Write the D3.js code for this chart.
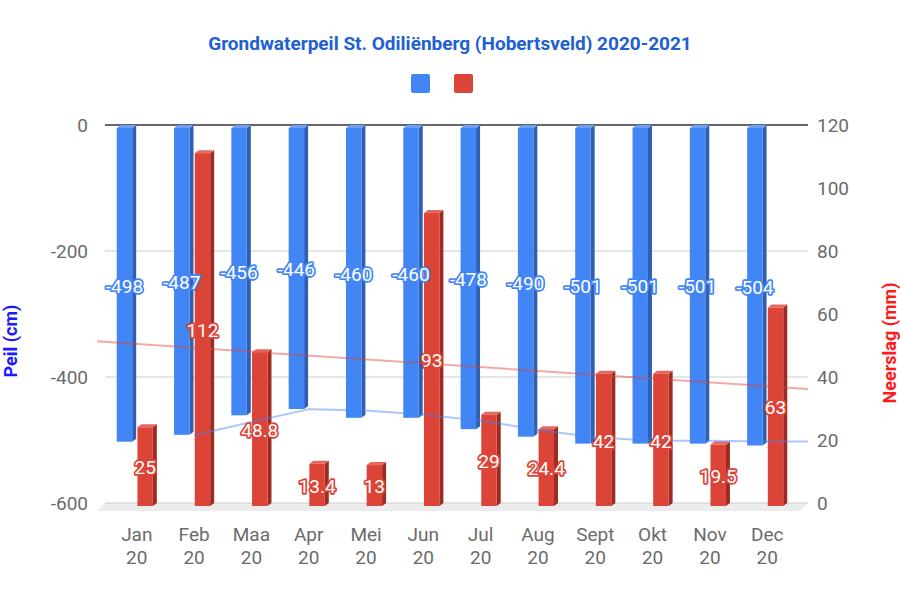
<!DOCTYPE html>
<html>
<head>
<meta charset="utf-8">
<script src="https://cdn.jsdelivr.net/npm/d3@7"></script>
<style>
  body { margin: 0; background: #fff; }
  text { font-family: Roboto, "Noto Sans", sans-serif; }
</style>
</head>
<body>
<div id="chart"></div>
<script>
var months = ["Jan", "Feb", "Maa", "Apr", "Mei", "Jun", "Jul", "Aug", "Sept", "Okt", "Nov", "Dec"];
var yearLabel = "20";
var peil = [-498, -487, -456, -446, -460, -460, -478, -490, -501, -501, -501, -504];
var neerslag = [25, 112, 48.8, 13.4, 13, 93, 29, 24.4, 42, 42, 19.5, 63];
var peilTicks = [0, -200, -400, -600];
var neerslagTicks = [0, 20, 40, 60, 80, 100, 120];

var svgWidth = 900, svgHeight = 600;
var plotLeft = 107, plotRight = 797, plotTop = 125, plotBottom = 503;
var dx = 4, dy = 3;   // 3d depth of the bars
var fs = 19;

var blue = "#4285f4", blueSide = "#2f5fb3", blueTop = "#6d9ef6";
var red = "#db4437", redSide = "#9c2c22", redTop = "#e4685d";

var svg = d3.select("#chart").append("svg")
    .attr("width", svgWidth)
    .attr("height", svgHeight);

var x = d3.scaleBand().domain(months).range([plotLeft, plotRight])
    .paddingInner(0.3).paddingOuter(0.17);
var x1 = d3.scaleBand().domain(["peil", "neerslag"]).range([0, x.bandwidth()]).paddingInner(0.06);
var yL = d3.scaleLinear().domain([-600, 0]).range([plotBottom, plotTop]);
var yR = d3.scaleLinear().domain([0, 120]).range([plotBottom, plotTop]);

function center(i) { return x(months[i]) + x.bandwidth() / 2; }

// title + legend
svg.append("text")
    .attr("x", 450).attr("y", 50)
    .attr("text-anchor", "middle")
    .attr("font-size", fs).attr("font-weight", "bold")
    .attr("fill", "#2160d0")
    .text("Grondwaterpeil St. Odiliënberg (Hobertsveld) 2020-2021");

svg.append("rect").attr("x", 411).attr("y", 74).attr("width", 19).attr("height", 19).attr("rx", 2).attr("fill", blue);
svg.append("rect").attr("x", 454).attr("y", 74).attr("width", 19).attr("height", 19).attr("rx", 2).attr("fill", red);

// floor
svg.append("polygon")
    .attr("points", [[105, plotBottom], [808, plotBottom], [800, plotBottom + 8], [97, plotBottom + 8]].join(" "))
    .attr("fill", "#ececec");

// grid lines
svg.selectAll(".grid").data(peilTicks).enter().append("line")
    .attr("class", "grid")
    .attr("x1", 105).attr("x2", 808)
    .attr("y1", function(d) { return yL(d); })
    .attr("y2", function(d) { return yL(d); })
    .attr("stroke", function(d) { return d === 0 ? "#333" : "#ccc"; })
    .attr("stroke-width", function(d) { return d === 0 ? 1.5 : 1; });

// axis tick labels
svg.selectAll(".tickL").data(peilTicks).enter().append("text")
    .attr("x", 88).attr("y", function(d) { return yL(d); })
    .attr("dy", "0.35em").attr("text-anchor", "end")
    .attr("font-size", fs).attr("fill", "#6b6b6b")
    .text(function(d) { return d; });

svg.selectAll(".tickR").data(neerslagTicks).enter().append("text")
    .attr("x", 817).attr("y", function(d) { return yR(d); })
    .attr("dy", "0.35em").attr("text-anchor", "start")
    .attr("font-size", fs).attr("fill", "#6b6b6b")
    .text(function(d) { return d; });

// month labels
var xl = svg.selectAll(".xlab").data(months).enter().append("text")
    .attr("text-anchor", "middle")
    .attr("font-size", fs).attr("fill", "#6b6b6b");
xl.append("tspan").attr("x", function(d) { return x(d) + x.bandwidth() / 2; }).attr("y", 541).text(function(d) { return d; });
xl.append("tspan").attr("x", function(d) { return x(d) + x.bandwidth() / 2; }).attr("y", 564).text(yearLabel);

// axis titles
svg.append("text")
    .attr("transform", "translate(17,341) rotate(-90)")
    .attr("text-anchor", "middle")
    .attr("font-size", 18).attr("font-weight", "bold").attr("fill", "#1a1aff")
    .text("Peil (cm)");
svg.append("text")
    .attr("transform", "translate(896,343) rotate(-90)")
    .attr("text-anchor", "middle")
    .attr("font-size", 18).attr("font-weight", "bold").attr("fill", "#ff1a1a")
    .text("Neerslag (mm)");

// 3d bars
function bar3d(g, x0, w, yA, yB, front, side, topc) {
    var y0 = Math.min(yA, yB) + dy, y1 = Math.max(yA, yB) + dy;
    g.append("polygon")
        .attr("points", [[x0 + w, y0], [x0 + w + dx, y0 - dy], [x0 + w + dx, y1 - dy], [x0 + w, y1]].join(" "))
        .attr("fill", side);
    g.append("polygon")
        .attr("points", [[x0, y0], [x0 + dx, y0 - dy], [x0 + w + dx, y0 - dy], [x0 + w, y0]].join(" "))
        .attr("fill", topc);
    g.append("rect").attr("x", x0).attr("y", y0).attr("width", w).attr("height", y1 - y0).attr("fill", front);
}

var bars = svg.append("g");
var fw = x1.bandwidth() - dx;
months.forEach(function(m, i) {
    bar3d(bars, x(m) + x1("peil"), fw, yL(0), yL(peil[i]), blue, blueSide, blueTop);
    bar3d(bars, x(m) + x1("neerslag"), fw, yR(0), yR(neerslag[i]), red, redSide, redTop);
});

// trend lines
var avg = [];
for (var i = 1; i < peil.length; i++) avg.push([center(i), yL((peil[i - 1] + peil[i]) / 2)]);
avg.push([808, avg[avg.length - 1][1]]);
svg.append("path")
    .attr("d", d3.line()(avg))
    .attr("fill", "none").attr("stroke", blue).attr("stroke-opacity", 0.45).attr("stroke-width", 2);

var n = neerslag.length, mx = (n - 1) / 2, my = d3.mean(neerslag);
var sxy = d3.sum(neerslag, function(d, i) { return (i - mx) * (d - my); });
var sxx = d3.sum(neerslag, function(d, i) { return (i - mx) * (i - mx); });
var slope = sxy / sxx;
var step = center(1) - center(0);
var idx = d3.scaleLinear().domain([0, 1]).range([center(0), center(0) + step]);
var i0 = idx.invert(97), i1 = idx.invert(808);
svg.append("path")
    .attr("d", d3.line()([[97, yR(my + slope * (i0 - mx))], [808, yR(my + slope * (i1 - mx))]]))
    .attr("fill", "none").attr("stroke", red).attr("stroke-opacity", 0.45).attr("stroke-width", 2);

// value labels
function valueLabel(xc, yc, txt, col) {
    svg.append("text")
        .attr("x", xc).attr("y", yc).attr("dy", "0.35em")
        .attr("text-anchor", "middle")
        .attr("font-size", fs)
        .attr("fill", "#fff").attr("stroke", col).attr("stroke-width", 3.5)
        .attr("stroke-linejoin", "round").attr("paint-order", "stroke")
        .text(txt);
}
months.forEach(function(m, i) {
    valueLabel(x(m) + x1("peil") + fw / 2, (yL(0) + yL(peil[i])) / 2 + 4, peil[i], blue);
    valueLabel(x(m) + x1("neerslag") + fw / 2, (yR(0) + yR(neerslag[i])) / 2 + 4, neerslag[i], red);
});
</script>
</body>
</html>
